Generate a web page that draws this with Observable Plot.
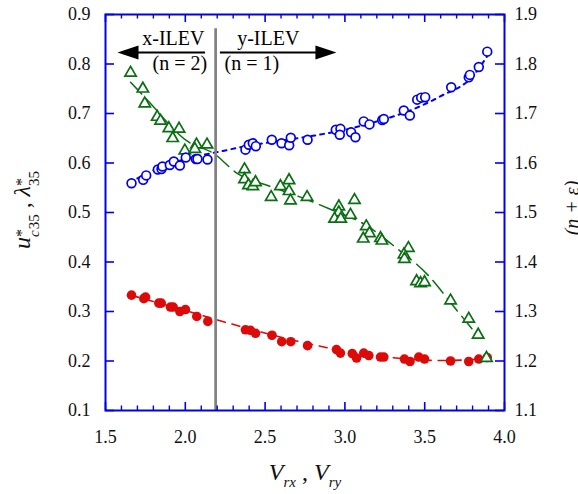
<!DOCTYPE html>
<html><head><meta charset="utf-8">
<script src="https://cdn.jsdelivr.net/npm/d3@7"></script>
<script src="https://cdn.jsdelivr.net/npm/@observablehq/plot@0.6"></script>
<style>body{margin:0;background:#fff;} svg text{font-family:'Liberation Serif','Times New Roman',serif;}</style>
</head><body><div id="chart"></div>
<script>
// ---- tick values / labels ----
const xTicks = [1.5, 2.0, 2.5, 3.0, 3.5, 4.0];
const xTickLabels = ["1.5", "2.0", "2.5", "3.0", "3.5", "4.0"];
const xMinorTicks = [1.6,1.7,1.8,1.9,2.1,2.2,2.3,2.4,2.6,2.7,2.8,2.9,3.1,3.2,3.3,3.4,3.6,3.7,3.8,3.9];
const leftTicks = [0.1, 0.2, 0.3, 0.4, 0.5, 0.6, 0.7, 0.8, 0.9];
const leftTickLabels = ["0.1","0.2","0.3","0.4","0.5","0.6","0.7","0.8","0.9"];
const rightTickLabels = ["1.1","1.2","1.3","1.4","1.5","1.6","1.7","1.8","1.9"];
const rightOffset = 1.0; // right axis (n + eps) = left axis value + 1

// ---- series: (n + eps), open blue circles, right axis ----
const nX = [1.663,1.736,1.755,1.828,1.851,1.857,1.903,1.928,1.966,2.003,2.066,2.076,2.139,2.377,2.398,2.423,2.442,2.542,2.603,2.651,2.661,2.766,2.943,2.972,2.968,3.039,3.066,3.118,3.154,3.234,3.244,3.369,3.407,3.453,3.478,3.503,3.666,3.776,3.783,3.839,3.892];
const nY = [1.559,1.566,1.575,1.587,1.588,1.593,1.596,1.603,1.595,1.611,1.608,1.608,1.607,1.627,1.637,1.640,1.634,1.647,1.640,1.636,1.651,1.647,1.667,1.669,1.657,1.662,1.652,1.684,1.678,1.687,1.689,1.706,1.696,1.728,1.732,1.733,1.753,1.773,1.778,1.794,1.825];
const nFitX = [1.65,1.8,2.0,2.2,2.4,2.6,2.8,3.0,3.2,3.4,3.6,3.8,3.9];
const nFitY = [1.560,1.585,1.608,1.622,1.635,1.645,1.655,1.667,1.684,1.705,1.735,1.775,1.820];

// ---- series: lambda*35, green open triangles ----
const lamX = [1.657,1.734,1.746,1.824,1.845,1.897,1.961,1.921,1.997,2.070,2.060,2.136,2.371,2.371,2.396,2.423,2.440,2.538,2.596,2.650,2.650,2.659,2.763,2.962,2.962,2.935,2.974,3.035,3.060,3.134,3.154,3.115,3.223,3.232,3.398,3.370,3.373,3.449,3.474,3.499,3.662,3.776,3.835,3.887];
const lamY = [0.782,0.750,0.720,0.693,0.685,0.670,0.669,0.650,0.625,0.637,0.628,0.637,0.587,0.567,0.555,0.553,0.561,0.531,0.553,0.565,0.543,0.524,0.531,0.512,0.500,0.487,0.487,0.495,0.525,0.472,0.458,0.447,0.448,0.443,0.428,0.415,0.406,0.361,0.357,0.359,0.322,0.285,0.253,0.206];
const lamFitX = [1.657,1.746,2.022,2.179,2.325,2.529,2.722,2.920,3.118,3.328,3.516,3.682,3.829];
const lamFitY = [0.763,0.733,0.642,0.619,0.579,0.553,0.531,0.505,0.477,0.427,0.375,0.310,0.252];

// ---- series: u*c35, red filled circles ----
const ucX = [1.663,1.740,1.751,1.834,1.849,1.907,1.924,1.966,2.001,2.072,2.141,2.377,2.408,2.440,2.543,2.604,2.661,2.766,2.947,2.972,3.046,3.073,3.118,3.150,3.223,3.244,3.373,3.408,3.463,3.499,3.662,3.776,3.839,3.892];
const ucY = [0.333,0.326,0.329,0.317,0.317,0.309,0.309,0.300,0.304,0.290,0.280,0.263,0.262,0.256,0.252,0.239,0.239,0.231,0.223,0.216,0.215,0.206,0.216,0.211,0.208,0.208,0.204,0.199,0.208,0.204,0.200,0.199,0.204,0.207];
const ucFitX = [1.66,1.8,2.0,2.2,2.4,2.6,2.8,3.0,3.2,3.4,3.6,3.8,3.9];
const ucFitY = [0.333,0.320,0.302,0.283,0.265,0.248,0.233,0.220,0.210,0.204,0.201,0.203,0.207];

// ---- annotations ----
const divideX = [2.19];
const divideTop = 0.871;
const arrowY = 0.823;
const leftArrow = {tip: 1.575, end: 2.127};
const rightArrow = {tip: 2.947, end: 2.22};
const notesLeft = [
  {x: 2.120, y: 0.8374, text: "x-ILEV"},
  {x: 2.137, y: 0.787, text: "(n = 2)"}
];
const notesRight = [
  {x: 2.325, y: 0.8374, text: "y-ILEV"},
  {x: 2.246, y: 0.787, text: "(n = 1)"}
];

const BLUE = "#0000f0", GREEN = "#0a6e12", RED = "#dd0a0a", AXIS = "#0000ee";
const W = 578, H = 494, ML = 105, MR = 74, MT = 14, MB = 84;
const PW = W - ML - MR, PH = H - MT - MB;
const FONT = "Liberation Serif";

const zip = (xs, ys) => xs.map((x, i) => ({x, y: ys[i]}));
const nData = zip(nX, nY).map(d => ({x: d.x, y: d.y - rightOffset}));
const nFit = zip(nFitX, nFitY).map(d => ({x: d.x, y: d.y - rightOffset}));
const lamData = zip(lamX, lamY), lamFit = zip(lamFitX, lamFitY);
const ucData = zip(ucX, ucY), ucFit = zip(ucFitX, ucFitY);

const headLeft = {draw(ctx) { ctx.moveTo(0, 0); ctx.lineTo(21, -7); ctx.lineTo(21, 7); ctx.closePath(); }};
const headRight = {draw(ctx) { ctx.moveTo(0, 0); ctx.lineTo(-21, -7); ctx.lineTo(-21, 7); ctx.closePath(); }};

const svg = Plot.plot({
  width: W, height: H,
  marginLeft: ML, marginRight: MR, marginTop: MT, marginBottom: MB,
  style: {fontFamily: FONT, background: "white"},
  x: {domain: [1.5, 4.0], label: null},
  y: {domain: [0.1, 0.9], label: null},
  marks: [
    // fit lines
    Plot.line(ucFit, {x: "x", y: "y", stroke: RED, strokeWidth: 1.6, strokeDasharray: "8,7", curve: "monotone-x"}),
    Plot.line(lamFit, {x: "x", y: "y", stroke: GREEN, strokeWidth: 1.5, strokeDasharray: "16,7", curve: "monotone-x"}),
    Plot.line(nFit, {x: "x", y: "y", stroke: BLUE, strokeWidth: 2, strokeDasharray: "4,5", curve: "monotone-x"}),
    // dividing line
    Plot.ruleX(divideX, {y1: 0.1, y2: divideTop, stroke: "#808080", strokeWidth: 2.7}),
    // data points
    Plot.dot(ucData, {x: "x", y: "y", r: 4.8, fill: RED, stroke: "none"}),
    Plot.dot(lamData, {x: "x", y: "y", symbol: "triangle", r: 4.2, fill: "white", stroke: GREEN, strokeWidth: 1.7}),
    Plot.dot(nData, {x: "x", y: "y", r: 4.4, fill: "white", stroke: BLUE, strokeWidth: 1.7}),
    // arrows
    Plot.ruleY([arrowY], {x1: leftArrow.tip + 0.05, x2: leftArrow.end, stroke: "black", strokeWidth: 2}),
    Plot.ruleY([arrowY], {x1: rightArrow.end, x2: rightArrow.tip - 0.05, stroke: "black", strokeWidth: 2}),
    Plot.dot([leftArrow], {x: "tip", y: arrowY, symbol: headLeft, fill: "black", stroke: "none"}),
    Plot.dot([rightArrow], {x: "tip", y: arrowY, symbol: headRight, fill: "black", stroke: "none"}),
    Plot.text(notesLeft, {x: "x", y: "y", text: "text", textAnchor: "end", lineAnchor: "bottom", fontSize: 20, fontFamily: FONT, fill: "black"}),
    Plot.text(notesRight, {x: "x", y: "y", text: "text", textAnchor: "start", lineAnchor: "bottom", fontSize: 20, fontFamily: FONT, fill: "black"}),
    // frame and ticks
    Plot.frame({stroke: AXIS, strokeWidth: 2}),
    Plot.tickX(xTicks, {stroke: AXIS, strokeWidth: 1.6, insetTop: PH - 8}),
    Plot.tickX(xTicks, {stroke: AXIS, strokeWidth: 1.6, insetBottom: PH - 8}),
    Plot.tickX(xMinorTicks, {stroke: AXIS, strokeWidth: 1.4, insetTop: PH - 4.5}),
    Plot.tickX(xMinorTicks, {stroke: AXIS, strokeWidth: 1.4, insetBottom: PH - 4.5}),
    Plot.tickY(leftTicks, {stroke: AXIS, strokeWidth: 1.6, insetRight: PW - 9}),
    Plot.tickY(leftTicks, {stroke: AXIS, strokeWidth: 1.6, insetLeft: PW - 9}),
    // tick labels
    Plot.axisX(xTicks, {anchor: "bottom", tickSize: 0, tickPadding: 20, tickFormat: d => xTickLabels[xTicks.indexOf(d)], fontSize: 18, fontFamily: FONT, fill: "#111", label: null}),
    Plot.axisY(leftTicks, {anchor: "left", tickSize: 0, tickPadding: 15, tickFormat: d => leftTickLabels[leftTicks.indexOf(d)], fontSize: 18, fontFamily: FONT, fill: "#111", label: null}),
    Plot.axisY(leftTicks, {anchor: "right", tickSize: 0, tickPadding: 10, tickFormat: d => rightTickLabels[leftTicks.indexOf(d)], fontSize: 18, fontFamily: FONT, fill: "#111", label: null})
  ]
});

// axis titles with sub/superscripts
const s = d3.select(svg);
const xt = s.append("text").attr("x", 305).attr("y", 480).attr("text-anchor", "middle")
  .attr("fill", "#111").attr("font-size", 24);
xt.append("tspan").attr("font-style", "italic").text("V");
xt.append("tspan").attr("font-style", "italic").attr("font-size", 15).attr("dy", 7).text("rx");
xt.append("tspan").attr("dy", -7).text(" , ");
xt.append("tspan").attr("font-style", "italic").text("V");
xt.append("tspan").attr("font-style", "italic").attr("font-size", 15).attr("dy", 7).text("ry");

const yt = s.append("text").attr("transform", "translate(30,210) rotate(-90)").attr("text-anchor", "middle")
  .attr("fill", "#111").attr("font-size", 24);
yt.append("tspan").attr("font-style", "italic").text("u");
yt.append("tspan").attr("font-size", 16).attr("dy", -3).text("*");
yt.append("tspan").attr("font-style", "italic").attr("font-size", 15).attr("dx", -8).attr("dy", 12).text("c");
yt.append("tspan").attr("font-size", 15).attr("dx", 1).text("35");
yt.append("tspan").attr("dy", -9).text(" , ");
yt.append("tspan").attr("font-style", "italic").text("λ");
yt.append("tspan").attr("font-size", 16).attr("dy", -3).text("*");
yt.append("tspan").attr("font-size", 15).attr("dx", -8).attr("dy", 12).text("35");

const rt = s.append("text").attr("transform", "translate(579,208) rotate(-90)").attr("text-anchor", "middle")
  .attr("fill", "#111").attr("font-size", 20).attr("font-style", "italic");
rt.text("(n + ε)");

document.getElementById("chart").appendChild(svg);
</script>
</body></html>
